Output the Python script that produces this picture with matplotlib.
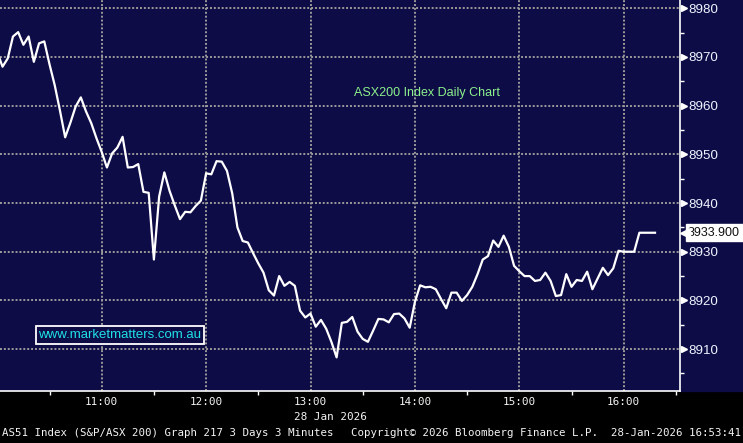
import matplotlib
matplotlib.use("Agg")
import matplotlib.pyplot as plt
import matplotlib.dates as mdates
import pandas as pd
from matplotlib.patches import Rectangle
from matplotlib.ticker import MultipleLocator, FixedLocator
from matplotlib.transforms import offset_copy

# ASX200 3-minute bars, 28 Jan 2026
session_start = "2026-01-28 10:00"
bar_freq = "3min"
close_values = [
    8971.0, 8968.0, 8969.7, 8974.2, 8975.1, 8972.5, 8974.2, 8969.0, 8972.8, 8973.2,
    8968.5, 8964.2, 8959.0, 8953.5, 8956.5, 8959.8, 8961.7, 8958.8, 8956.4, 8953.3,
    8950.5, 8947.3, 8950.2, 8951.4, 8953.6, 8947.3, 8947.4, 8948.0, 8942.3, 8942.1,
    8928.4, 8941.3, 8946.3, 8942.5, 8939.5, 8936.7, 8938.2, 8938.1, 8939.4, 8940.5,
    8946.1, 8945.9, 8948.6, 8948.5, 8946.6, 8942.0, 8935.0, 8932.2, 8931.9, 8929.7,
    8927.6, 8925.7, 8922.1, 8921.0, 8925.0, 8923.0, 8923.8, 8923.0, 8917.9, 8916.5,
    8917.3, 8914.6, 8916.0, 8914.2, 8911.5, 8908.3, 8915.4, 8915.6, 8916.6, 8913.6,
    8912.1, 8911.5, 8913.8, 8916.2, 8916.1, 8915.5, 8917.2, 8917.3, 8916.3, 8914.4,
    8919.7, 8923.1, 8922.7, 8922.8, 8922.3, 8920.3, 8918.4, 8921.6, 8921.6, 8919.9,
    8921.1, 8922.8, 8925.4, 8928.4, 8929.1, 8932.3, 8931.0, 8933.3, 8931.0, 8927.1,
    8926.0, 8925.0, 8925.0, 8924.0, 8924.2, 8925.7, 8924.0, 8920.9, 8921.1, 8925.4,
    8922.8, 8924.2, 8924.0, 8925.9, 8922.3, 8924.5, 8926.7, 8925.2, 8926.6, 8930.2,
    8930.0, 8930.0, 8930.0, 8933.9, 8933.9, 8933.9, 8933.9,
]
y_ticks = [8910, 8920, 8930, 8940, 8950, 8960, 8970, 8980]
y_range = (8901.4, 8981.7)
x_range = ("2026-01-28 10:01:33", "2026-01-28 16:32:21")

title_text = "ASX200 Index Daily Chart"
site_text = "www.marketmatters.com.au"
date_text = "28 Jan 2026"
footer_left = "AS51 Index (S&P/ASX 200) Graph 217 3 Days 3 Minutes"
footer_mid = "Copyright\u00a9 2026 Bloomberg Finance L.P."
footer_right = "28-Jan-2026 16:53:41"

NAVY = "#0e0c46"
GRID = "#9a9a9a"
MONO = "DejaVu Sans Mono"
SANS = "Liberation Sans"
TXT = "#f4f4f4"

times = pd.date_range(session_start, periods=len(close_values), freq=bar_freq)

W, H = 743, 443
fig = plt.figure(figsize=(W / 100, H / 100), dpi=100, facecolor="black")
ax = fig.add_axes([0, 52 / H, 680 / W, 391 / H])
ax.set_facecolor(NAVY)
# navy strip behind the right price axis
fig.patches.append(Rectangle((680 / W, 52 / H), 63 / W, 391 / H,
                             transform=fig.transFigure, color=NAVY, zorder=-1))

ax.plot(times, close_values, color="white", lw=1.6, zorder=3)

ax.set_xlim(pd.Timestamp(x_range[0]), pd.Timestamp(x_range[1]))
ax.set_ylim(*y_range)

# x axis
ax.xaxis.set_major_locator(mdates.HourLocator())
ax.xaxis.set_major_formatter(mdates.DateFormatter("%H:%M"))
ax.xaxis.set_minor_locator(mdates.MinuteLocator(byminute=[30]))
ax.tick_params(axis="x", which="major", length=0, pad=4.5, labelsize=7.9,
               labelcolor=TXT)
ax.tick_params(axis="x", which="minor", length=3, width=1, color="white",
               direction="out")
for lab in ax.get_xticklabels():
    lab.set_family(MONO)

# y axis on the right
ax.yaxis.tick_right()
ax.yaxis.set_major_locator(FixedLocator(y_ticks))
ax.yaxis.set_minor_locator(MultipleLocator(5))
ax.tick_params(axis="y", which="major", length=0, pad=6, labelsize=9.6,
               labelcolor="#eef3ff")
ax.tick_params(axis="y", which="minor", length=3, width=1, color="white",
               direction="out")
for lab in ax.get_yticklabels():
    lab.set_family(SANS)

# triangle markers for the major price ticks
tri = offset_copy(ax.get_yaxis_transform(), fig=fig, x=3.5, y=0, units="dots")
ax.plot([1] * len(y_ticks), y_ticks, ls="none", marker=">", ms=5,
        color="white", transform=tri, clip_on=False, zorder=5)

ax.grid(True, which="major", color=GRID, lw=1.4, ls=(0, (1, 1)))
for s in ("left", "top"):
    ax.spines[s].set_visible(False)
for s in ("right", "bottom"):
    ax.spines[s].set_color("white")
    ax.spines[s].set_linewidth(1.2)

# last price tag
last = close_values[-1]
ax.annotate(f"{last:.3f}", xy=(1, last), xycoords=ax.get_yaxis_transform(),
            xytext=(8, 0), textcoords="offset pixels", ha="left", va="center",
            fontsize=9.0, family=SANS, color="#111111", annotation_clip=False,
            bbox=dict(boxstyle="square,pad=0.2", fc="white", ec="white"),
            zorder=6)
tag = offset_copy(ax.get_yaxis_transform(), fig=fig, x=5, y=0, units="dots")
ax.plot([1], [last], ls="none", marker="<", ms=7, color="white",
        transform=tag, clip_on=False, zorder=6)

# captions
ax.text(427 / 680, 1 - 93 / 391, title_text, transform=ax.transAxes,
        ha="center", va="center", fontsize=9, family=SANS, color="#8cf08c")
ax.text(120 / 680, 1 - 335 / 391, site_text, transform=ax.transAxes,
        ha="center", va="center", fontsize=9.5, family=SANS, color="#1fe0e8",
        bbox=dict(boxstyle="square,pad=0.2", fc=NAVY, ec="white", lw=1.3),
        zorder=6)

fig.text(330 / W, 1 - 417.5 / H, date_text, ha="center", va="center",
         fontsize=7.9, family=MONO, color=TXT)
fig.text(2 / W, 1 - 433 / H, footer_left, ha="left", va="center",
         fontsize=7.75, family=MONO, color=TXT)
fig.text(351 / W, 1 - 433 / H, footer_mid, ha="left", va="center",
         fontsize=7.75, family=MONO, color=TXT)
fig.text(741 / W, 1 - 433 / H, footer_right, ha="right", va="center",
         fontsize=7.75, family=MONO, color=TXT)

fig.savefig("out.png", dpi=100, facecolor=fig.get_facecolor())
